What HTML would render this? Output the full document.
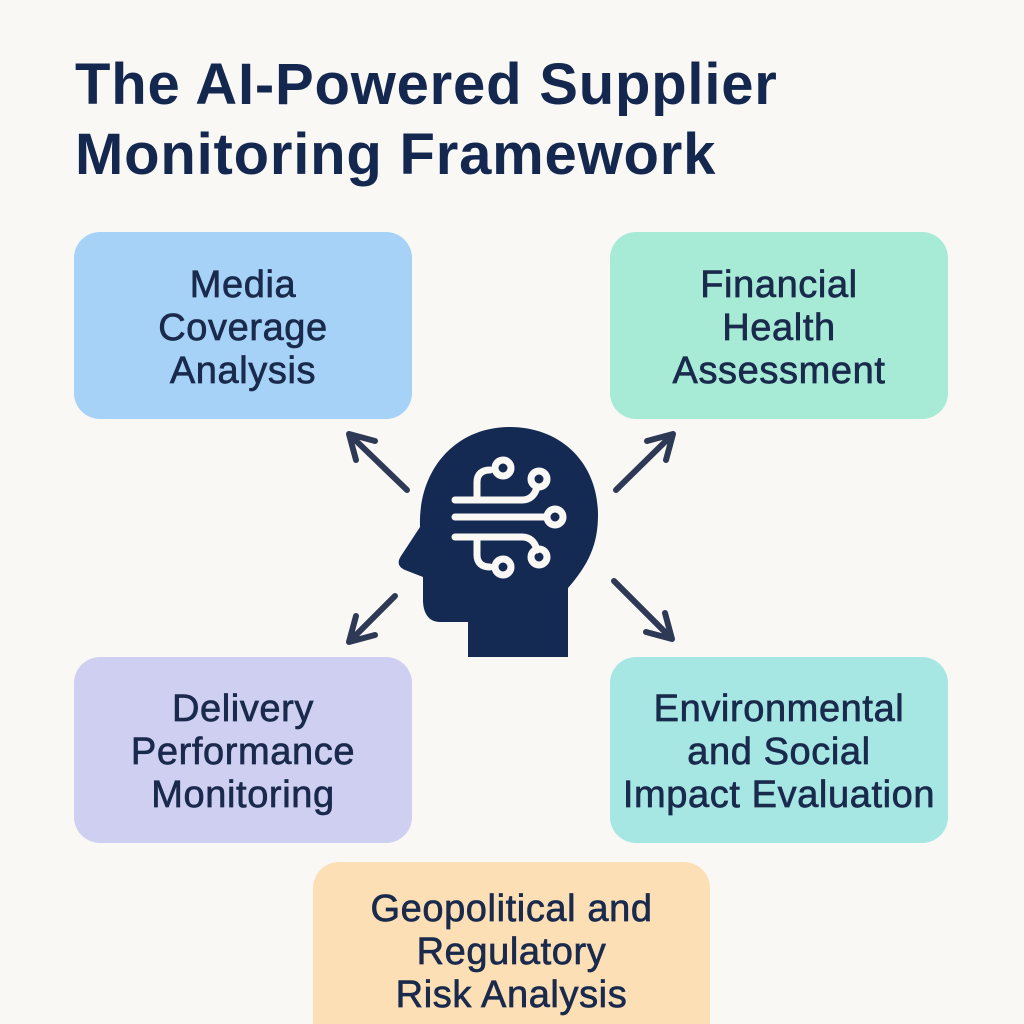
<!DOCTYPE html>
<html style="overflow:hidden;height:1024px"><head><style>
body{margin:0;background:#f9f8f5;width:1024px;height:1024px;overflow:hidden;position:relative;font-family:"Liberation Sans",sans-serif;}
h1{position:absolute;left:75px;top:50px;margin:0;font-size:58px;line-height:70px;font-weight:bold;color:#14284f;letter-spacing:0.8px;white-space:nowrap}
.b{position:absolute;border-radius:26px;display:flex;align-items:center;justify-content:center;text-align:center;font-size:38px;line-height:43px;color:#1a2a4c;letter-spacing:0.6px;-webkit-text-stroke:0.7px #1a2a4c;white-space:nowrap;box-sizing:border-box;padding-top:5px}
</style></head><body>
<h1>The AI-Powered Supplier<br>Monitoring Framework</h1>
<div class="b" style="left:74px;top:232px;width:338px;height:187px;background:#a7d2f7">Media<br>Coverage<br>Analysis</div>
<div class="b" style="left:610px;top:232px;width:338px;height:187px;background:#a7ebd7">Financial<br>Health<br>Assessment</div>
<div class="b" style="left:74px;top:657px;width:338px;height:186px;background:#cfd0f1">Delivery<br>Performance<br>Monitoring</div>
<div class="b" style="left:610px;top:657px;width:338px;height:186px;background:#a6e7e4">Environmental<br>and Social<br>Impact Evaluation</div>
<div class="b" style="left:313px;top:862px;width:397px;height:162px;border-radius:26px 26px 0 0;background:#fddfb6;align-items:flex-start;padding-top:26px">Geopolitical and<br>Regulatory<br>Risk Analysis</div>
<svg width="1024" height="1024" style="position:absolute;left:0;top:0">
<g stroke="#2e3a55" stroke-width="6" stroke-linecap="round" stroke-linejoin="round" fill="none">
<path d="M407 490 L349 434 M349 434 L375 441 M349 434 L356 460"/>
<path d="M616 490 L673 434 M673 434 L647 441 M673 434 L666 460"/>
<path d="M395 596 L349 642 M349 642 L356 616 M349 642 L375 635"/>
<path d="M614 581 L672 639 M672 639 L665 613 M672 639 L646 632"/>
</g>
<path fill="#142a52" d="M510 427 C560 427 598 462 598 515 C598 545 588 565 568 588 L568 657 L468 657 L468 622 L440 622 C428 622 423 612 423 600 L423 577 L405 570 C398 567 397 562 401 556 L420 527 C418 470 455 427 510 427 Z"/>
<g stroke="#f9f8f5" stroke-width="7" fill="none" stroke-linecap="round">
<path d="M455 500 L522 500 C530 500 535 495 537 487"/>
<path d="M477 500 L477 482 C477 474 482 470 490 470"/>
<path d="M455 517 L545 517"/>
<path d="M455 537 L522 537 C530 537 535 542 537 550"/>
<path d="M477 537 L477 555 C477 563 482 567 490 567"/>
<circle cx="503" cy="468" r="8"/><circle cx="539" cy="479" r="8"/>
<circle cx="555" cy="517" r="8"/>
<circle cx="539" cy="557" r="8"/><circle cx="503" cy="567" r="8"/>
</g>
</svg>
</body></html>
